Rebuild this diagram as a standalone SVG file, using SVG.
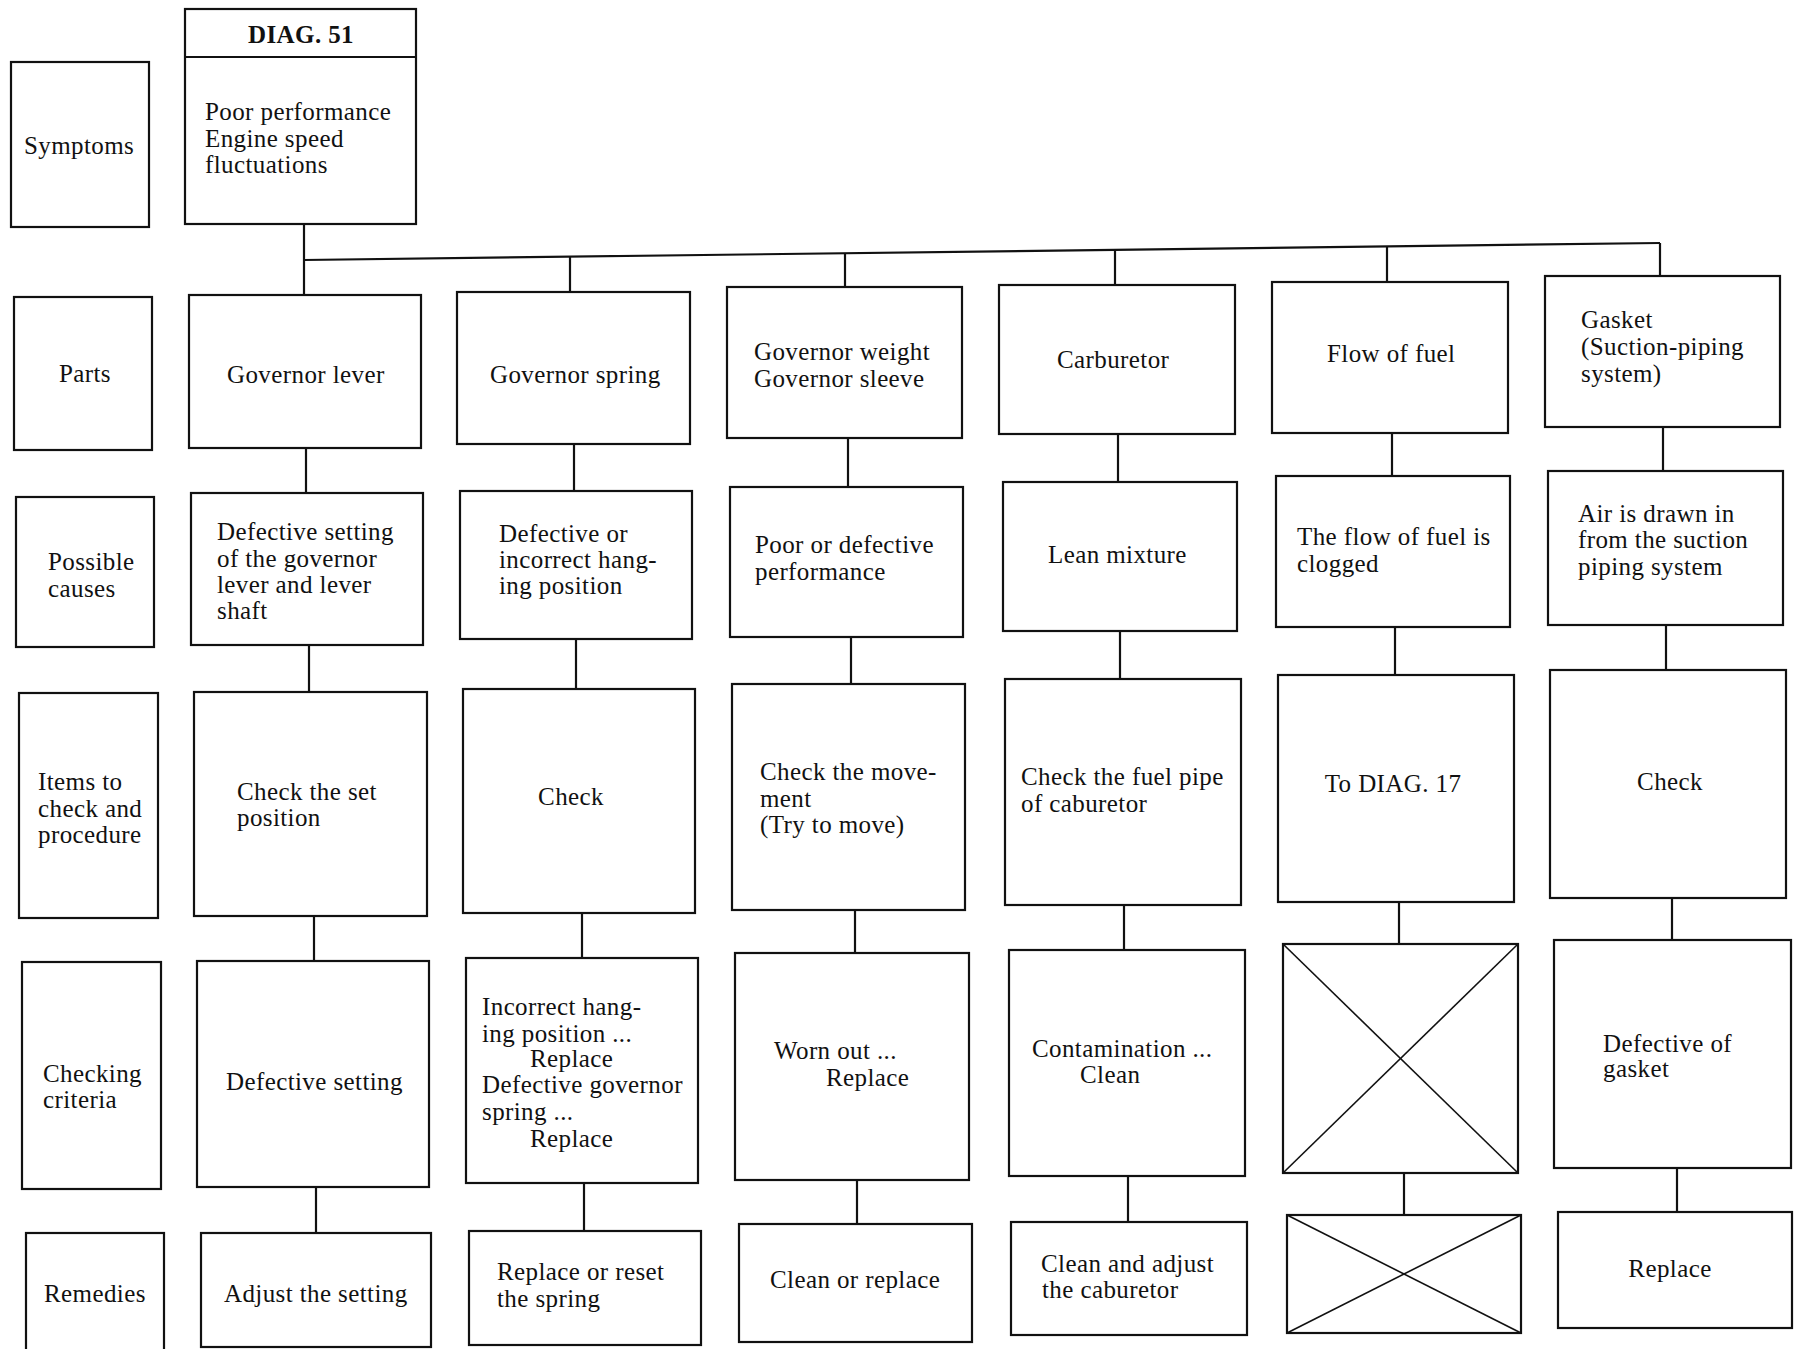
<svg xmlns="http://www.w3.org/2000/svg" width="1794" height="1349" viewBox="0 0 1794 1349">
<style>
.b{fill:none;stroke:#111;stroke-width:2.2}
.c{fill:none;stroke:#111;stroke-width:2.2}
.x{stroke:#111;stroke-width:1.6}
text{font-family:"Liberation Serif","Times New Roman",serif;font-size:25px;fill:#111;letter-spacing:0.4px}
.m{text-anchor:middle}
.h{font-weight:bold}
</style>
<rect width="1794" height="1349" fill="#fff"/>
<g id="connectors">
<line class="c" x1="304" y1="260" x2="1660" y2="243"/>
<line class="c" x1="304" y1="224" x2="304" y2="295"/>
<line class="c" x1="306" y1="448" x2="306" y2="493"/>
<line class="c" x1="309" y1="645" x2="309" y2="692"/>
<line class="c" x1="314" y1="916" x2="314" y2="961"/>
<line class="c" x1="316" y1="1187" x2="316" y2="1233"/>
<line class="c" x1="570" y1="257" x2="570" y2="292"/>
<line class="c" x1="574" y1="444" x2="574" y2="491"/>
<line class="c" x1="576" y1="639" x2="576" y2="689"/>
<line class="c" x1="582" y1="913" x2="582" y2="958"/>
<line class="c" x1="584" y1="1183" x2="584" y2="1231"/>
<line class="c" x1="845" y1="253" x2="845" y2="287"/>
<line class="c" x1="848" y1="438" x2="848" y2="487"/>
<line class="c" x1="851" y1="637" x2="851" y2="684"/>
<line class="c" x1="855" y1="910" x2="855" y2="953"/>
<line class="c" x1="857" y1="1180" x2="857" y2="1224"/>
<line class="c" x1="1115" y1="250" x2="1115" y2="285"/>
<line class="c" x1="1118" y1="434" x2="1118" y2="482"/>
<line class="c" x1="1120" y1="631" x2="1120" y2="679"/>
<line class="c" x1="1124" y1="905" x2="1124" y2="950"/>
<line class="c" x1="1128" y1="1176" x2="1128" y2="1222"/>
<line class="c" x1="1387" y1="246" x2="1387" y2="282"/>
<line class="c" x1="1392" y1="433" x2="1392" y2="476"/>
<line class="c" x1="1395" y1="627" x2="1395" y2="675"/>
<line class="c" x1="1399" y1="902" x2="1399" y2="944"/>
<line class="c" x1="1404" y1="1173" x2="1404" y2="1215"/>
<line class="c" x1="1660" y1="243" x2="1660" y2="276"/>
<line class="c" x1="1663" y1="427" x2="1663" y2="471"/>
<line class="c" x1="1666" y1="625" x2="1666" y2="670"/>
<line class="c" x1="1672" y1="898" x2="1672" y2="940"/>
<line class="c" x1="1677" y1="1168" x2="1677" y2="1212"/>
</g>
<g id="label-symptoms"><rect class="b" x="11" y="62" width="138" height="165"/><text x="24" y="154">Symptoms</text></g>
<g id="label-parts"><rect class="b" x="14" y="297" width="138" height="153"/><text x="59" y="382">Parts</text></g>
<g id="label-causes"><rect class="b" x="16" y="497" width="138" height="150"/><text x="48" y="570">Possible</text><text x="48" y="597">causes</text></g>
<g id="label-items"><rect class="b" x="19" y="693" width="139" height="225"/><text x="38" y="790">Items to</text><text x="38" y="817">check and</text><text x="38" y="843">procedure</text></g>
<g id="label-criteria"><rect class="b" x="22" y="962" width="139" height="227"/><text x="43" y="1082">Checking</text><text x="43" y="1108">criteria</text></g>
<g id="label-remedies"><rect class="b" x="26" y="1233" width="138" height="130"/><text x="44" y="1302">Remedies</text></g>

<g id="diag51"><rect class="b" x="185" y="9" width="231" height="215"/><line class="c" x1="185" y1="57" x2="416" y2="57"/><text class="m h" x="301" y="43">DIAG. 51</text><text x="205" y="120">Poor performance</text><text x="205" y="147">Engine speed</text><text x="205" y="173">fluctuations</text></g>

<g id="p1"><rect class="b" x="189" y="295" width="232" height="153"/><text x="227" y="383">Governor lever</text></g>
<g id="c1"><rect class="b" x="191" y="493" width="232" height="152"/><text x="217" y="540">Defective setting</text><text x="217" y="567">of the governor</text><text x="217" y="593">lever and lever</text><text x="217" y="619">shaft</text></g>
<g id="i1"><rect class="b" x="194" y="692" width="233" height="224"/><text x="237" y="800">Check the set</text><text x="237" y="826">position</text></g>
<g id="k1"><rect class="b" x="197" y="961" width="232" height="226"/><text x="226" y="1090">Defective setting</text></g>
<g id="r1"><rect class="b" x="201" y="1233" width="230" height="114"/><text x="224" y="1302">Adjust the setting</text></g>

<g id="p2"><rect class="b" x="457" y="292" width="233" height="152"/><text x="490" y="383">Governor spring</text></g>
<g id="c2"><rect class="b" x="460" y="491" width="232" height="148"/><text x="499" y="542">Defective or</text><text x="499" y="568">incorrect hang-</text><text x="499" y="594">ing position</text></g>
<g id="i2"><rect class="b" x="463" y="689" width="232" height="224"/><text class="m" x="571" y="805">Check</text></g>
<g id="k2"><rect class="b" x="466" y="958" width="232" height="225"/><text x="482" y="1015">Incorrect hang-</text><text x="482" y="1042">ing position ...</text><text x="530" y="1067">Replace</text><text x="482" y="1093">Defective governor</text><text x="482" y="1120">spring ...</text><text x="530" y="1147">Replace</text></g>
<g id="r2"><rect class="b" x="469" y="1231" width="232" height="114"/><text x="497" y="1280">Replace or reset</text><text x="497" y="1307">the spring</text></g>

<g id="p3"><rect class="b" x="727" y="287" width="235" height="151"/><text x="754" y="360">Governor weight</text><text x="754" y="387">Governor sleeve</text></g>
<g id="c3"><rect class="b" x="730" y="487" width="233" height="150"/><text x="755" y="553">Poor or defective</text><text x="755" y="580">performance</text></g>
<g id="i3"><rect class="b" x="732" y="684" width="233" height="226"/><text x="760" y="780">Check the move-</text><text x="760" y="807">ment</text><text x="760" y="833">(Try to move)</text></g>
<g id="k3"><rect class="b" x="735" y="953" width="234" height="227"/><text x="774" y="1059">Worn out ...</text><text x="826" y="1086">Replace</text></g>
<g id="r3"><rect class="b" x="739" y="1224" width="233" height="118"/><text x="770" y="1288">Clean or replace</text></g>

<g id="p4"><rect class="b" x="999" y="285" width="236" height="149"/><text x="1057" y="368">Carburetor</text></g>
<g id="c4"><rect class="b" x="1003" y="482" width="234" height="149"/><text x="1048" y="563">Lean mixture</text></g>
<g id="i4"><rect class="b" x="1005" y="679" width="236" height="226"/><text x="1021" y="785">Check the fuel pipe</text><text x="1021" y="812">of caburetor</text></g>
<g id="k4"><rect class="b" x="1009" y="950" width="236" height="226"/><text x="1032" y="1057">Contamination ...</text><text x="1080" y="1083">Clean</text></g>
<g id="r4"><rect class="b" x="1011" y="1222" width="236" height="113"/><text x="1041" y="1272">Clean and adjust</text><text x="1042" y="1298">the caburetor</text></g>

<g id="p5"><rect class="b" x="1272" y="282" width="236" height="151"/><text x="1327" y="362">Flow of fuel</text></g>
<g id="c5"><rect class="b" x="1276" y="476" width="234" height="151"/><text x="1297" y="545">The flow of fuel is</text><text x="1297" y="572">clogged</text></g>
<g id="i5"><rect class="b" x="1278" y="675" width="236" height="227"/><text class="m" x="1393" y="792">To DIAG. 17</text></g>
<g id="k5"><rect class="b" x="1283" y="944" width="235" height="229"/><line class="x" x1="1283" y1="944" x2="1518" y2="1173"/><line class="x" x1="1518" y1="944" x2="1283" y2="1173"/></g>
<g id="r5"><rect class="b" x="1287" y="1215" width="234" height="118"/><line class="x" x1="1287" y1="1215" x2="1521" y2="1333"/><line class="x" x1="1521" y1="1215" x2="1287" y2="1333"/></g>

<g id="p6"><rect class="b" x="1545" y="276" width="235" height="151"/><text x="1581" y="328">Gasket</text><text x="1581" y="355">(Suction-piping</text><text x="1581" y="382">system)</text></g>
<g id="c6"><rect class="b" x="1548" y="471" width="235" height="154"/><text x="1578" y="522">Air is drawn in</text><text x="1578" y="548">from the suction</text><text x="1578" y="575">piping system</text></g>
<g id="i6"><rect class="b" x="1550" y="670" width="236" height="228"/><text class="m" x="1670" y="790">Check</text></g>
<g id="k6"><rect class="b" x="1554" y="940" width="237" height="228"/><text x="1603" y="1052">Defective of</text><text x="1603" y="1077">gasket</text></g>
<g id="r6"><rect class="b" x="1558" y="1212" width="234" height="116"/><text class="m" x="1670" y="1277">Replace</text></g>
</svg>
